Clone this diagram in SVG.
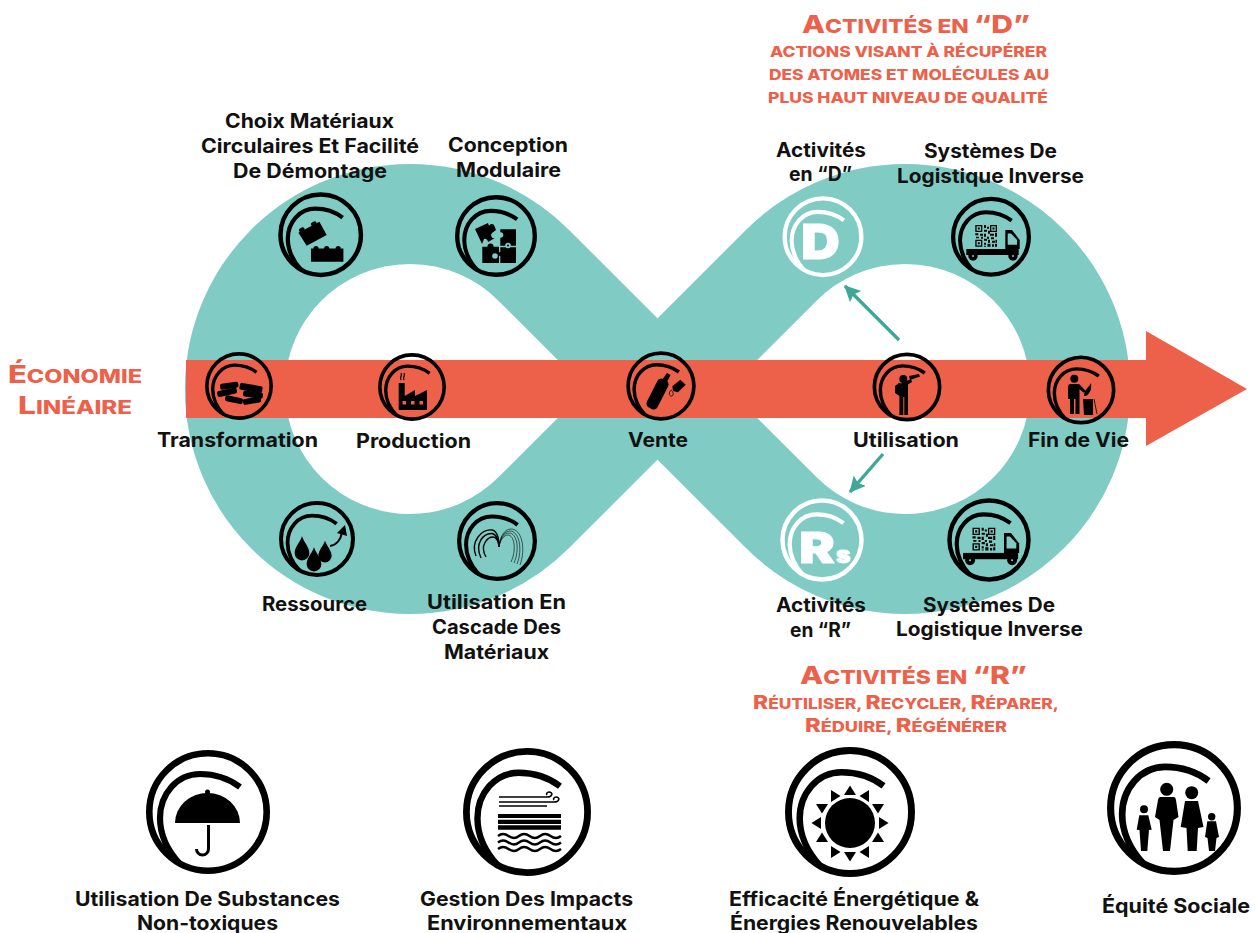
<svg xmlns="http://www.w3.org/2000/svg" width="1257" height="933" viewBox="0 0 1257 933">
<style>
text{font-family:Inter,"Liberation Sans",sans-serif;font-weight:700;fill:#111}
.l{font-size:19.5px;transform:translateY(.7px)}
.b{font-size:20px}
.h{fill:#ED614A;font-size:25px;font-weight:800}
.s{fill:#ED614A;font-size:14.5px;font-weight:800}
.c{fill:#ED614A;font-size:19px;font-weight:800}
.e{fill:#ED614A;font-size:24px;font-weight:800}
.x{font-size:.76em;text-transform:uppercase}
.w{fill:#fff;stroke:#fff;stroke-width:.8;font-weight:900}
.k{fill:#000}
.o{fill:#ED614A}
.t{fill:#80CCC5}
</style>
<defs>
<g id="ring" fill="none" stroke="currentColor"><circle r="58.7" stroke-width="6.6"/><path stroke-width="6.2" d="M32,-25C20,-34 6,-38 -8,-38C-31,-38 -48,-18 -48,6C-48,20 -42,37 -28,52"/></g>
<path id="tri" d="M0,-5.500L6,4L-6,4Z"/>
<path id="drop" d="M0,-13C2,-7 7,-3 7,3A7,7 0 1 1 -7,3C-7,-3 -2,-7 0,-13Z"/>
<g id="truck">
<path class="k" d="M-15.700,-11.700h7v7h-7zM-1,-11.700h7v7h-7zM-15.700,3h7v7h-7z"/>
<path class="t" d="M-14.400,-10.400h4.400v4.400h-4.400zM.3,-10.400h4.400v4.400h-4.400zM-14.400,4.300h4.400v4.400h-4.400z"/>
<path class="k" d="M-13.200,-9.200h2v2h-2zM1.500,-9.200h2v2h-2zM-13.200,5.500h2v2h-2zM-7,-11.700h2v3h-2zM-4,-10h2v2h-2zM-7,-7h3v2h-3zM-3,-6h2v3h-2zM-15.700,-3.500h3v2h-3zM-11,-3h3v2h-3zM-7,-3h2v3h-2zM-1,-3h4v2h-4zM4,-4h2v4h-2zM-15,0h3v1.600h-3zM-10,0h2v2h-2zM-4,0h2v2h-2zM0,.5h3v2h-3zM-7,2h3v2h-3zM-3,3h2v3h-2zM1,4h3v2h-3zM4.500,3h1.500v3h-1.500zM-7,6h2v2h-2zM-3.500,7h3v3h-3zM1,7.500h2v2.500h-2zM4,7h2v3h-2zM-7,9h2v1h-2z"/>
<path class="k" d="M14.300,-6.700H21L28.700,3.300V12.300H14.300Z"/>
<path class="t" d="M16.700,-3.300H20L26,3V8H16.700Z"/>
<rect class="k" x="-24.700" y="12.300" width="52.400" height="6"/>
<circle class="k" cx="-18" cy="19.300" r="4.700"/><circle class="k" cx="22" cy="19.300" r="4.700"/>
<circle class="t" cx="-18" cy="19.300" r="1"/><circle class="t" cx="22" cy="19.300" r="1"/>
</g>
<marker id="ah" markerUnits="userSpaceOnUse" markerWidth="18" markerHeight="18" refX="15" refY="8" orient="auto"><path d="M0,0L16,8L0,16L3,8Z" fill="#3FA796"/></marker>
</defs>

<g id="loop"><path d="M533.700,265.300L781.300,512.700A175,175 0 1 0 781.300,265.300L533.700,512.700A175,175 0 1 1 533.700,265.300Z" fill="none" stroke="#80CCC5" stroke-width="100" stroke-linejoin="round"/></g>
<g id="linear-arrow"><path d="M186,360H1146V331L1247,389L1146,446V418H186Z" fill="#ED614A"/>
<text class="e" x="8" y="383" textLength="134" lengthAdjust="spacingAndGlyphs">É<tspan class="x">conomie</tspan></text>
<text class="e" x="18" y="414" textLength="114" lengthAdjust="spacingAndGlyphs">L<tspan class="x">inéaire</tspan></text></g>

<g id="connectors" fill="none" stroke="#3FA796" stroke-width="3.400">
<line x1="899" y1="340" x2="845" y2="286" marker-end="url(#ah)"/>
<line x1="883" y1="454" x2="850" y2="492" marker-end="url(#ah)"/>
</g>

<g id="n-choix"><use href="#ring" color="#000" transform="translate(320.700,234.700) scale(.685)"/>
<g transform="translate(320.700,234.700)" class="k"><path d="M-9.700,13.700H22.700V27H-9.700Z"/><circle cx="-4.700" cy="14" r="2.600"/><circle cx="6" cy="14" r="2.600"/><circle cx="17.500" cy="14" r="2.600"/><path d="M-22.300,-2L-1.300,-13L6,.3L-14,11Z"/><ellipse cx="-19" cy="-5" rx="3" ry="2" transform="rotate(-28 -19 -5)"/><ellipse cx="-7" cy="-11" rx="3" ry="2" transform="rotate(-28 -7 -11)"/></g>
<text class="l" x="225" y="127" textLength="169" lengthAdjust="spacingAndGlyphs">Choix Matériaux</text>
<text class="l" x="201" y="152.500" textLength="218" lengthAdjust="spacingAndGlyphs">Circulaires Et Facilité</text>
<text class="l" x="233" y="177" textLength="154" lengthAdjust="spacingAndGlyphs">De Démontage</text></g>

<g id="n-conception"><use href="#ring" color="#000" transform="translate(496,236) scale(.661)"/>
<g transform="translate(496,236)"><path class="k" d="M4.300,-6.700H20V9.700H4.300ZM-13.700,10.700H3V27H-13.700ZM4.300,11.300H20V27H4.300Z"/><path class="k" d="M-21,-7L-8,-13L-7,-10A3,3 0 0 1 -2,-11L0,-6L-4,-3A3,3 0 0 0 -1,2L-8,6A3,3 0 0 0 -12,3L-14,8Z"/><circle class="t" cx="4.500" cy="-1" r="2.800"/><circle class="t" cx="12" cy="9.500" r="2.800"/><circle class="k" cx="12" cy="9.500" r="1"/><circle class="k" cx="-5.500" cy="10.500" r="3"/><circle class="t" cx="-1" cy="20" r="2.800"/><circle class="k" cx="4" cy="18" r="2"/></g>
<text class="l" x="448" y="151.500" textLength="120" lengthAdjust="spacingAndGlyphs">Conception</text>
<text class="l" x="456" y="176.500" textLength="105" lengthAdjust="spacingAndGlyphs">Modulaire</text></g>

<g id="n-activites-d"><use href="#ring" color="#fff" transform="translate(823,236.700) scale(.653)"/>
<text class="w" x="801" y="259" font-size="48" textLength="39" lengthAdjust="spacingAndGlyphs">D</text>
<text class="l" x="776" y="156" textLength="90" lengthAdjust="spacingAndGlyphs">Activités</text>
<text class="l" x="789" y="180.500" textLength="63" lengthAdjust="spacingAndGlyphs">en “D”</text></g>

<g id="n-logistique-haut"><use href="#ring" color="#000" transform="translate(991,236.700) scale(.645)"/>
<use href="#truck" transform="translate(991,236.700)"/>
<text class="l" x="924" y="157" textLength="133" lengthAdjust="spacingAndGlyphs">Systèmes De</text>
<text class="l" x="897" y="182" textLength="187" lengthAdjust="spacingAndGlyphs">Logistique Inverse</text></g>

<g id="n-transformation"><use href="#ring" color="#000" transform="translate(239,386) scale(.548)"/>
<g transform="translate(239,386)" class="k"><rect x="-19" y="-3.300" width="18.500" height="6" rx="2" transform="rotate(-8 -10 0)"/><rect x="0.5" y="-1.500" width="23" height="7" rx="2" transform="rotate(10 12 2)"/><rect x="-22" y="3.300" width="20" height="6" rx="2" transform="rotate(-12 -12 6)"/><rect x="4" y="5.700" width="20" height="6" rx="2" transform="rotate(8 14 8.700)"/><rect x="-14" y="10.700" width="18" height="6" rx="2" transform="rotate(12 -5 13.700)"/><rect x="4" y="11.700" width="18" height="6" rx="2" transform="rotate(-10 13 14.700)"/></g>
<text class="l" x="157" y="446.500" textLength="161" lengthAdjust="spacingAndGlyphs">Transformation</text></g>

<g id="n-production"><use href="#ring" color="#000" transform="translate(412,387) scale(.548)"/>
<g transform="translate(412,387)"><path class="k" d="M-13.300,-4H-7.300V9L3,3V9L15,3V23H-13.300Z"/><path class="o" d="M-9.500,14h3.500v3.500h-3.500zM-1,14h3.500v3.500h-3.500zM7.500,14h3.500v3.500h-3.500z"/><path d="M-11,-7C-13,-10 -9,-11 -11,-14M-8,-7C-10,-10 -6,-11 -8,-14" fill="none" stroke="#000" stroke-width="1.300"/></g>
<text class="l" x="356" y="447" textLength="115" lengthAdjust="spacingAndGlyphs">Production</text></g>

<g id="n-vente"><use href="#ring" color="#000" transform="translate(661,386) scale(.56)"/>
<g transform="translate(661,386)"><rect class="k" x="-9.500" y="-8" width="12" height="32" rx="4.500" transform="rotate(27 -3.500 8)"/><path class="k" d="M6,-13L9.500,-11L6,-4L1,-6Z"/><path class="k" d="M11.300,.3L19.300,-6.300L24.700,-1.300L17,6.300L12,5Z"/><path d="M11,4C7,5 8,11 11,10C13,9 12,6 11,5" fill="none" stroke="#000" stroke-width=".8"/></g>
<text class="l" x="628" y="446.500" textLength="60" lengthAdjust="spacingAndGlyphs">Vente</text></g>

<g id="n-utilisation"><use href="#ring" color="#000" transform="translate(907,387) scale(.556)"/>
<g transform="translate(907,387)" class="k"><circle cx="-3.700" cy="-8" r="4"/><path d="M2,-11L12,-13L13,-10.500L3,-7Z"/><path d="M-8.500,-3.500Q-9,-5 -6,-3.500L4,-8L5,-5L1,-2.500V28H-2.700V10H-3.700V28H-7.600V9L-12,6V-1Z"/></g>
<text class="l" x="853" y="446.700" textLength="106" lengthAdjust="spacingAndGlyphs">Utilisation</text></g>

<g id="n-fin-de-vie"><use href="#ring" color="#000" transform="translate(1081,390) scale(.556)"/>
<g transform="translate(1081,390)" class="k"><circle cx="-6.700" cy="-11.300" r="4"/><path d="M-13,-3Q-13,-6 -10,-6H-3Q-1,-6 0,-4L5,1L3,3L-1.500,-1V24H-5.500V9H-7V24H-11V9H-13Z"/><path d="M2,9H12V25H3Z"/><path d="M3,6C3,0 8,-3 10,-7C11,-2 9,4 5,6Z"/><path d="M13,9L16,24" stroke="#000" stroke-width=".8" fill="none"/></g>
<text class="l" x="1028" y="446.700" textLength="101" lengthAdjust="spacingAndGlyphs">Fin de Vie</text></g>

<g id="n-ressource"><use href="#ring" color="#000" transform="translate(317,539) scale(.613)"/>
<g transform="translate(317,539)" class="k"><use href="#drop" transform="translate(-15,11) scale(1.05)"/><use href="#drop" transform="translate(-3,22) scale(1.05)"/><use href="#drop" transform="translate(8,14) scale(.95)"/><path d="M13,7C20,6 24,0 25,-7" fill="none" stroke="#000" stroke-width="2"/><path d="M20,-6L28,-14L30,-3Z"/></g>
<text class="l" x="262" y="610" textLength="105" lengthAdjust="spacingAndGlyphs">Ressource</text></g>

<g id="n-cascade"><use href="#ring" color="#000" transform="translate(497,541) scale(.645)"/>
<g transform="translate(497,541)" fill="none" stroke="#000"><g stroke-width="1.400"><path d="M-21,15C-27,0 -15,-12 -5,-11C0,-10 2,-2 2,6"/><path d="M-16,17C-23,2 -13,-8 -5,-7.500C-1,-7 2,-1 2,6"/><path d="M-11,16C-18,4 -9,-4 -4,-4C-1,-4 2,0 2,6"/></g><g stroke-width=".6"><path d="M2,6C3,-4 7,-12 14,-12C25,-12 29,8 23,24"/><path d="M2,6C3,-3 7,-10 13,-10C22,-10 26,8 20,23"/><path d="M2,6C3,-2 7,-8 12,-8C20,-8 23,8 17,22"/><path d="M2,6C3,-1 7,-6 11,-6C17,-6 20,8 14,21"/></g></g>
<text class="l" x="427" y="608" textLength="139" lengthAdjust="spacingAndGlyphs">Utilisation En</text>
<text class="l" x="432" y="633" textLength="129" lengthAdjust="spacingAndGlyphs">Cascade Des</text>
<text class="l" x="444" y="658" textLength="105" lengthAdjust="spacingAndGlyphs">Matériaux</text></g>

<g id="n-activites-r"><use href="#ring" color="#fff" transform="translate(822,540) scale(.673)"/>
<text class="w" x="799" y="563" font-size="43" textLength="36" lengthAdjust="spacingAndGlyphs">R</text>
<text class="w" x="836" y="563" font-size="23" textLength="14.500" lengthAdjust="spacingAndGlyphs">s</text>
<text class="l" x="776" y="611" textLength="90" lengthAdjust="spacingAndGlyphs">Activités</text>
<text class="l" x="790" y="636" textLength="61" lengthAdjust="spacingAndGlyphs">en “R”</text></g>

<g id="n-logistique-bas"><use href="#ring" color="#000" transform="translate(989,540) scale(.673)"/>
<use href="#truck" transform="translate(989,540) scale(1.05)"/>
<text class="l" x="923" y="611" textLength="132" lengthAdjust="spacingAndGlyphs">Systèmes De</text>
<text class="l" x="896" y="635.500" textLength="187" lengthAdjust="spacingAndGlyphs">Logistique Inverse</text></g>

<g id="titre-d"><text class="h" x="802" y="33" textLength="228" lengthAdjust="spacingAndGlyphs">A<tspan class="x">ctivités en </tspan>“D”</text>
<text class="s" x="770" y="57" textLength="277" lengthAdjust="spacingAndGlyphs">ACTIONS VISANT À RÉCUPÉRER</text>
<text class="s" x="769" y="80" textLength="280" lengthAdjust="spacingAndGlyphs">DES ATOMES ET MOLÉCULES AU</text>
<text class="s" x="768" y="103" textLength="280" lengthAdjust="spacingAndGlyphs">PLUS HAUT NIVEAU DE QUALITÉ</text></g>

<g id="titre-r"><text class="h" x="800" y="684" textLength="227" lengthAdjust="spacingAndGlyphs">A<tspan class="x">ctivités en </tspan>“R”</text>
<text class="c" x="753" y="709" textLength="306" lengthAdjust="spacingAndGlyphs">R<tspan class="x">éutiliser, </tspan>R<tspan class="x">ecycler, </tspan>R<tspan class="x">éparer,</tspan></text>
<text class="c" x="805" y="732" textLength="202" lengthAdjust="spacingAndGlyphs">R<tspan class="x">éduire, </tspan>R<tspan class="x">égénérer</tspan></text></g>

<g id="n-substances"><use href="#ring" color="#000" transform="translate(208,812)"/>
<g transform="translate(208,812)"><path class="k" d="M-33,11A32.500,30 0 0 1 32,11Z"/><circle class="k" cx="-.5" cy="-20" r="2.500"/><path d="M0.500,13V37A6,6 0 0 1 -11.500,37" fill="none" stroke="#000" stroke-width="3"/></g>
<text class="b" x="75" y="906" textLength="265" lengthAdjust="spacingAndGlyphs">Utilisation De Substances</text>
<text class="b" x="137" y="930" textLength="141" lengthAdjust="spacingAndGlyphs">Non-toxiques</text></g>

<g id="n-impacts"><use href="#ring" color="#000" transform="translate(527,812) scale(1.032)"/>
<g transform="translate(527,812)"><path class="k" d="M-29,2H34V6H-29ZM-29,7.700H34V12H-29ZM-29,13.300H34V17.700H-29Z"/><g fill="none" stroke="#000"><g stroke-width="1.600"><path d="M-28,-15H20C26,-15 26,-20 22,-20C20,-20 19,-18 20,-17"/><path d="M-28,-10H27C33,-10 33,-15 29,-15C27,-15 26,-13 27,-12"/><path d="M-28,-6H20"/></g><g stroke-width="2.400"><path id="wave" d="M-29,24q5,-4 10.500,0t10.500,0t10.500,0t10.500,0t10.500,0t10.500,0"/><use href="#wave" y="6.500"/><use href="#wave" y="13"/></g></g></g>
<text class="b" x="420" y="906" textLength="213" lengthAdjust="spacingAndGlyphs">Gestion Des Impacts</text>
<text class="b" x="427" y="930" textLength="200" lengthAdjust="spacingAndGlyphs">Environnementaux</text></g>

<g id="n-energie"><use href="#ring" color="#000" transform="translate(850,812) scale(1.048)"/>
<g transform="translate(850,812)" class="k"><circle cy="11" r="25"/>
<use href="#tri" transform="translate(0,-21)"/><use href="#tri" transform="translate(-15,-16) rotate(90)"/><use href="#tri" transform="translate(15,-16) rotate(-90)"/><use href="#tri" transform="translate(-28,-4) rotate(180)"/><use href="#tri" transform="translate(28,-4) rotate(180)"/><use href="#tri" transform="translate(-33,11) rotate(-90)"/><use href="#tri" transform="translate(33,11) rotate(90)"/><use href="#tri" transform="translate(-28,26)"/><use href="#tri" transform="translate(28,26)"/><use href="#tri" transform="translate(-15,40) rotate(90)"/><use href="#tri" transform="translate(15,40) rotate(-90)"/><use href="#tri" transform="translate(0,44) rotate(180)"/></g>
<text class="b" x="729" y="906" textLength="250" lengthAdjust="spacingAndGlyphs">Efficacité Énergétique &amp;</text>
<text class="b" x="730" y="930" textLength="248" lengthAdjust="spacingAndGlyphs">Énergies Renouvelables</text></g>

<g id="n-equite"><use href="#ring" color="#000" transform="translate(1174,808) scale(1.08)"/>
<g transform="translate(1174,808)" class="k"><circle cx="-7.300" cy="-18.700" r="6.500"/><path d="M-14,-11H0Q1.500,-11 2,-8L4.500,9L-.5,12L-4,43H-11L-14.500,12L-19,9L-16,-8Q-15.500,-11 -14,-11Z"/><circle cx="17.700" cy="-15.300" r="6.500"/><path d="M11,-7H24L29.500,19L24,20L22.700,43H13.700L12.500,20L6.700,19Z"/><circle cx="-30" cy="1.300" r="4"/><path d="M-34.700,7.300H-25.700L-22.300,21.700L-25,22L-26.700,43H-33L-34.500,22L-37.300,21.700Z"/><circle cx="37.700" cy="8.700" r="3.700"/><path d="M33.300,13.300H42L45,29L42.500,30L41,43H35L33.500,30L31,29Z"/></g>
<text class="b" x="1102" y="913" textLength="148" lengthAdjust="spacingAndGlyphs">Équité Sociale</text></g>
</svg>
